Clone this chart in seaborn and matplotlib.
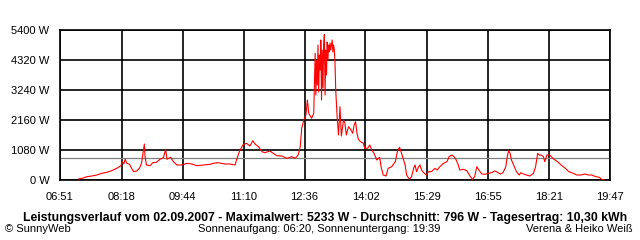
import matplotlib
matplotlib.use("Agg")
import matplotlib.pyplot as plt
import seaborn as sns
import pandas as pd

# ---- data (minutes since midnight, power in W) ----
minutes = [437, 442, 449, 456, 463, 470, 477, 484, 491, 497, 499, 501, 503, 505, 509, 512, 515, 519,
           523, 526, 528, 530, 531, 533, 538, 542, 547, 552, 557, 560, 562, 567, 571, 576, 583, 590,
           597, 604, 613, 623, 627, 634, 644, 651, 658, 660, 664, 669, 674, 679, 683, 686, 691, 696,
           700, 707, 712, 717, 724, 731, 738, 743, 747, 750, 752, 755, 758, 760, 762, 766, 769,
           771, 772, 773, 774, 775, 776, 777, 778, 779, 780, 781, 782, 783, 784, 785, 786, 787, 788,
           789, 790, 791, 792, 793, 794, 795, 796, 797, 798, 799, 800,
           802, 804, 806, 808, 811, 813, 815, 818, 821, 824, 826, 828, 830, 832, 835, 839, 841, 845,
           848, 851, 854, 858, 862, 864, 867, 871, 874, 879, 884, 887, 890, 893, 895, 898, 900, 904,
           907, 910, 912, 914, 917, 919, 921, 925, 928, 931, 935, 940, 943, 947, 952, 957, 960, 964,
           967, 970, 973, 975, 980, 985, 990, 993, 996, 999, 1002, 1006, 1011, 1015, 1020, 1024,
           1027, 1032, 1036, 1040, 1042, 1044, 1046, 1048, 1052, 1055, 1059, 1061, 1065, 1069, 1074,
           1079, 1082, 1085, 1087, 1090, 1093, 1095, 1098, 1102, 1105, 1108, 1113, 1118, 1124, 1129,
           1135, 1140, 1146, 1152, 1156, 1161, 1167, 1172, 1175, 1179]
power = [36, 61, 119, 144, 180, 241, 277, 335, 421, 515, 659, 576, 745, 612, 565, 421, 299, 324,
         421, 601, 961, 1296, 839, 540, 515, 623, 637, 745, 803, 1105, 745, 817, 659, 540, 540, 601,
         576, 515, 540, 565, 601, 623, 576, 576, 540, 720, 1019, 1260, 1321, 1224, 1415, 1296, 1199, 1019,
         983, 1044, 961, 875, 864, 781, 839, 781, 900, 1199, 1861, 2160, 2340, 2880, 2401, 2221, 2401,
         4561, 3060, 4320, 3420, 4860, 3168, 4500, 3960, 5040, 2880, 4680, 3312, 4860, 5233, 3060, 4680, 3780, 4968,
         4320, 4860, 4608, 4932, 4680, 4860, 5040, 4608, 4860, 4680, 4248, 3240,
         2279, 1620, 2639, 1584, 2160, 2041, 1620, 1919, 1825, 1681, 1980, 2099, 1681, 1465, 1379, 1321, 1141, 1141,
         1260, 1080, 961, 720, 817, 479, 180, 144, 421, 479, 659, 1019, 1177, 961, 781, 540, 180, 25,
         119, 421, 540, 299, 479, 540, 360, 241, 180, 299, 299, 421, 360, 479, 601, 659, 839, 900,
         839, 720, 540, 360, 385, 335, 119, 25, 119, 479, 360, 216, 205, 241, 263, 324,
         299, 216, 263, 479, 839, 1055, 961, 720, 479, 299, 180, 263, 216, 180, 144,
         241, 479, 961, 900, 900, 839, 659, 900, 900, 817, 745, 659, 540, 421, 299,
         241, 180, 180, 216, 180, 180, 119, 97, 25, 0]

x_tick_labels = ["06:51", "08:18", "09:44", "11:10", "12:36", "14:02", "15:29", "16:55", "18:21", "19:47"]
y_ticks = [0, 1080, 2160, 3240, 4320, 5400]
y_tick_labels = ["0 W", "1080 W", "2160 W", "3240 W", "4320 W", "5400 W"]
average_w = 796
title = "Leistungsverlauf vom 02.09.2007 - Maximalwert: 5233 W - Durchschnitt: 796 W - Tagesertrag: 10,30 kWh"
footer_left = "\u00a9 SunnyWeb"
footer_center = "Sonnenaufgang: 06:20, Sonnenuntergang: 19:39"
footer_right = "Verena & Heiko Weiß"

df = pd.DataFrame({"minute": minutes, "power": power})
x_ticks = [int(s[:2]) * 60 + int(s[3:]) for s in x_tick_labels]

sns.set_theme(style="white")
plt.rcParams["font.family"] = ["Liberation Sans", "DejaVu Sans"]

fig = plt.figure(figsize=(6.4, 2.4), dpi=100)
fig.patch.set_facecolor("white")
ax = fig.add_axes([60 / 640, 60 / 240, 550 / 640, 150 / 240])
ax.set_facecolor("white")

ax.axhline(average_w, color="#808080", lw=0.9, zorder=2)
sns.lineplot(data=df, x="minute", y="power", ax=ax, color="#ff0000", lw=0.8,
             estimator=None, sort=False, zorder=3)

ax.set_xlim(x_ticks[0], x_ticks[-1])
ax.set_ylim(0, 5400)
ax.set_xticks(x_ticks)
ax.set_xticklabels(x_tick_labels)
ax.set_yticks(y_ticks)
ax.set_yticklabels(y_tick_labels)
ax.set_xlabel("")
ax.set_ylabel("")
ax.grid(True, color="black", lw=1.2, zorder=1)
ax.set_axisbelow(True)
for s in ax.spines.values():
    s.set_visible(True)
    s.set_color("black")
    s.set_linewidth(1.2)
ax.tick_params(axis="both", direction="out", length=3.6, width=1.0, color="black",
               labelsize=8, labelcolor="black")
ax.tick_params(axis="x", pad=5)
ax.tick_params(axis="y", pad=4)

fig.text(325 / 640, 1 - 221 / 240, title, ha="center", va="baseline",
         fontsize=8.8, fontweight="bold", color="black")
fig.text(5 / 640, 1 - 232 / 240, footer_left, ha="left", va="baseline", fontsize=8, color="black")
fig.text(319 / 640, 1 - 232 / 240, footer_center, ha="center", va="baseline", fontsize=8, color="black")
fig.text(633 / 640, 1 - 232 / 240, footer_right, ha="right", va="baseline", fontsize=8, color="black")

fig.savefig("out.png", dpi=100, facecolor="white")
